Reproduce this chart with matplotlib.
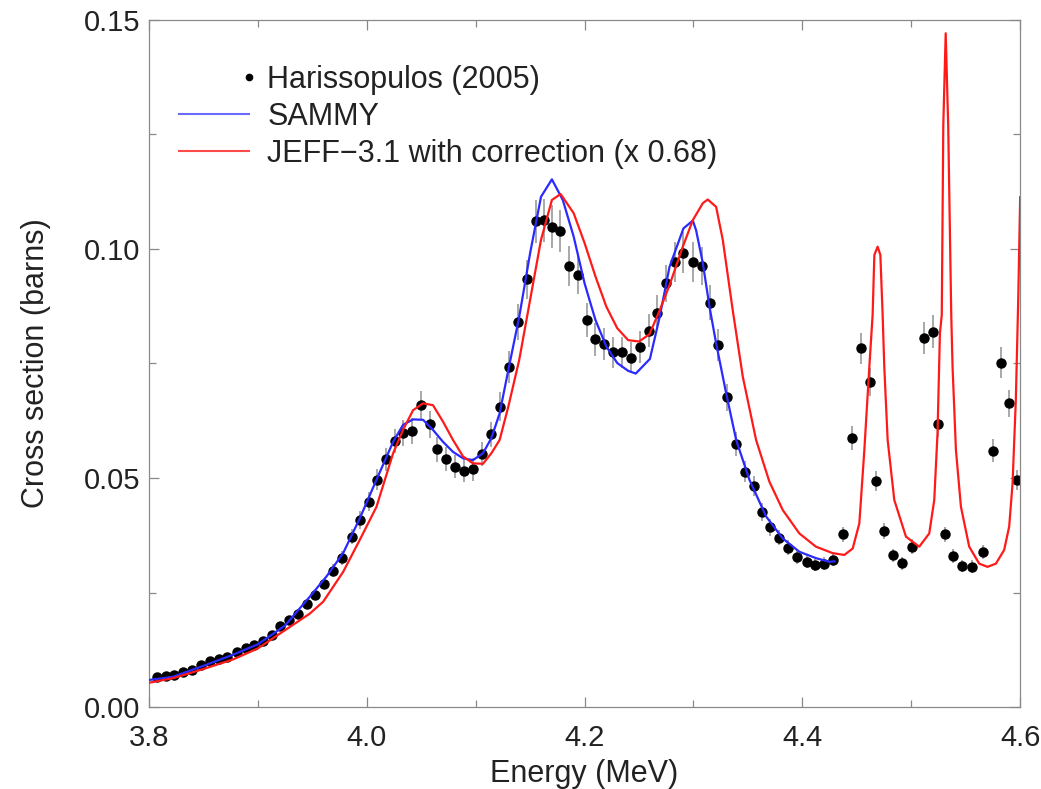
import numpy as np
import matplotlib
matplotlib.use("Agg")
import matplotlib.pyplot as plt
from matplotlib.lines import Line2D
from matplotlib.legend_handler import HandlerLine2D
from matplotlib.ticker import MultipleLocator, FormatStrFormatter

plt.rcParams['font.family'] = ['Liberation Sans', 'DejaVu Sans']

# measured cross section, Harissopulos (2005)
exp_energy = [3.8076, 3.8153, 3.8229, 3.8309, 3.8391, 3.8477, 3.8560, 3.8642, 3.8718, 3.8804,
              3.8887, 3.8966, 3.9049, 3.9128, 3.9205, 3.9284, 3.9364, 3.9447, 3.9523, 3.9608,
              3.9690, 3.9774, 3.9860, 3.9942, 4.0018, 4.0098, 4.0181, 4.0257, 4.0333, 4.0416,
              4.0495, 4.0578, 4.0644, 4.0725, 4.0807, 4.0890, 4.0972, 4.1058, 4.1141, 4.1220,
              4.1306, 4.1388, 4.1471, 4.1550, 4.1627, 4.1700, 4.1777, 4.1856, 4.1939, 4.2021,
              4.2100, 4.2181, 4.2263, 4.2346, 4.2428, 4.2511, 4.2590, 4.2666, 4.2746, 4.2826,
              4.2908, 4.2994, 4.3076, 4.3153, 4.3229, 4.3309, 4.3391, 4.3474, 4.3553, 4.3626,
              4.3706, 4.3789, 4.3872, 4.3951, 4.4039, 4.4119, 4.4202, 4.4284, 4.4370, 4.4452,
              4.4538, 4.4617, 4.4676, 4.4746, 4.4829, 4.4914, 4.5006, 4.5119, 4.5195, 4.5248,
              4.5312, 4.5385, 4.5470, 4.5556, 4.5654, 4.5749, 4.5828, 4.5901, 4.5972]
exp_xs = [0.0066, 0.0068, 0.0071, 0.0076, 0.0081, 0.0092, 0.0100, 0.0105, 0.0110, 0.0121,
          0.0128, 0.0135, 0.0145, 0.0157, 0.0177, 0.0191, 0.0204, 0.0224, 0.0245, 0.0268,
          0.0298, 0.0325, 0.0372, 0.0408, 0.0448, 0.0496, 0.0541, 0.0581, 0.0598, 0.0603,
          0.0659, 0.0617, 0.0563, 0.0541, 0.0525, 0.0516, 0.0519, 0.0552, 0.0595, 0.0656,
          0.0742, 0.0840, 0.0934, 0.1060, 0.1063, 0.1049, 0.1040, 0.0963, 0.0943, 0.0845,
          0.0803, 0.0792, 0.0774, 0.0774, 0.0763, 0.0787, 0.0822, 0.0861, 0.0925, 0.0972,
          0.0992, 0.0972, 0.0963, 0.0883, 0.0790, 0.0676, 0.0574, 0.0514, 0.0483, 0.0426,
          0.0392, 0.0370, 0.0348, 0.0327, 0.0317, 0.0310, 0.0313, 0.0322, 0.0377, 0.0587,
          0.0783, 0.0710, 0.0493, 0.0384, 0.0331, 0.0314, 0.0350, 0.0806, 0.0819, 0.0617,
          0.0377, 0.0330, 0.0308, 0.0306, 0.0339, 0.0560, 0.0752, 0.0663, 0.0495]
exp_err = [0.0005, 0.0005, 0.0005, 0.0005, 0.0005, 0.0006, 0.0006, 0.0006, 0.0006, 0.0006,
           0.0006, 0.0006, 0.0008, 0.0008, 0.0008, 0.0008, 0.0010, 0.0010, 0.0010, 0.0010,
           0.0014, 0.0015, 0.0017, 0.0019, 0.0021, 0.0023, 0.0025, 0.0027, 0.0028, 0.0028,
           0.0032, 0.0030, 0.0027, 0.0026, 0.0025, 0.0025, 0.0025, 0.0026, 0.0028, 0.0031,
           0.0035, 0.0039, 0.0043, 0.0047, 0.0047, 0.0046, 0.0046, 0.0043, 0.0042, 0.0038,
           0.0036, 0.0035, 0.0034, 0.0034, 0.0034, 0.0035, 0.0036, 0.0038, 0.0041, 0.0043,
           0.0044, 0.0043, 0.0042, 0.0039, 0.0035, 0.0030, 0.0026, 0.0023, 0.0022, 0.0019,
           0.0018, 0.0017, 0.0016, 0.0015, 0.0014, 0.0014, 0.0014, 0.0015, 0.0017, 0.0026,
           0.0034, 0.0031, 0.0022, 0.0017, 0.0015, 0.0014, 0.0016, 0.0035, 0.0036, 0.0027,
           0.0017, 0.0015, 0.0014, 0.0014, 0.0015, 0.0025, 0.0033, 0.0029, 0.0022]

# SAMMY fit
sammy_energy = [3.8000, 3.8220, 3.8500, 3.8770, 3.9000, 3.9250, 3.9477, 3.9630, 3.9783, 3.9936,
                4.0089, 4.0242, 4.0333, 4.0425, 4.0517, 4.0608, 4.0700, 4.0792, 4.0884, 4.0975,
                4.1067, 4.1144, 4.1220, 4.1300, 4.1400, 4.1500, 4.1600, 4.1700, 4.1800, 4.1900,
                4.2000, 4.2100, 4.2200, 4.2300, 4.2400, 4.2470, 4.2600, 4.2690, 4.2780, 4.2908,
                4.2994, 4.3024, 4.3086, 4.3147, 4.3208, 4.3300, 4.3392, 4.3514, 4.3667, 4.3820,
                4.3972, 4.4125, 4.4248, 4.4294]
sammy_xs = [0.0059, 0.0066, 0.0090, 0.0114, 0.0137, 0.0178, 0.0241, 0.0285, 0.0336, 0.0412,
            0.0496, 0.0579, 0.0616, 0.0628, 0.0627, 0.0605, 0.0579, 0.0557, 0.0543, 0.0539,
            0.0554, 0.0587, 0.0641, 0.0736, 0.0852, 0.0991, 0.1114, 0.1152, 0.1107, 0.1027,
            0.0925, 0.0845, 0.0787, 0.0751, 0.0734, 0.0728, 0.0760, 0.0852, 0.0961, 0.1045,
            0.1062, 0.1041, 0.0969, 0.0874, 0.0794, 0.0685, 0.0583, 0.0496, 0.0416, 0.0368,
            0.0339, 0.0325, 0.0317, 0.0318]

# JEFF-3.1 evaluation with correction, scaled by 0.68
jeff_energy = [3.8000, 3.8223, 3.8500, 3.8773, 3.9000, 3.9232, 3.9477, 3.9600, 3.9783, 3.9936,
               4.0089, 4.0242, 4.0333, 4.0425, 4.0517, 4.0608, 4.0700, 4.0792, 4.0884, 4.0975,
               4.1067, 4.1144, 4.1220, 4.1300, 4.1400, 4.1500, 4.1600, 4.1700, 4.1780, 4.1900,
               4.2000, 4.2100, 4.2200, 4.2300, 4.2400, 4.2500, 4.2596, 4.2688, 4.2780, 4.2902,
               4.2994, 4.3086, 4.3131, 4.3208, 4.3269, 4.3360, 4.3453, 4.3575, 4.3697, 4.3820,
               4.3972, 4.4125, 4.4278, 4.4385, 4.4462, 4.4523, 4.4569, 4.4615, 4.4645, 4.4661,
               4.4691, 4.4716, 4.4737, 4.4752, 4.4783, 4.4844, 4.4951, 4.5073, 4.5165, 4.5211,
               4.5241, 4.5263, 4.5280, 4.5294, 4.5316, 4.5339, 4.5367, 4.5379, 4.5410, 4.5456,
               4.5532, 4.5624, 4.5700, 4.5777, 4.5853, 4.5899, 4.5930, 4.5960, 4.5982, 4.6000]
jeff_xs = [0.0053, 0.0063, 0.0083, 0.0104, 0.0128, 0.0165, 0.0204, 0.0230, 0.0295, 0.0365,
           0.0437, 0.0554, 0.0605, 0.0648, 0.0663, 0.0659, 0.0623, 0.0583, 0.0547, 0.0532,
           0.0531, 0.0554, 0.0583, 0.0656, 0.0758, 0.0889, 0.1020, 0.1107, 0.1120, 0.1078,
           0.1013, 0.0940, 0.0874, 0.0827, 0.0801, 0.0798, 0.0814, 0.0865, 0.0921, 0.1005,
           0.1063, 0.1100, 0.1108, 0.1092, 0.1020, 0.0867, 0.0721, 0.0583, 0.0492, 0.0430,
           0.0379, 0.0350, 0.0336, 0.0332, 0.0346, 0.0401, 0.0561, 0.0743, 0.0856, 0.0987,
           0.1005, 0.0987, 0.0856, 0.0743, 0.0583, 0.0452, 0.0372, 0.0350, 0.0379, 0.0452,
           0.0598, 0.0816, 0.0856, 0.1270, 0.1471, 0.1270, 0.0856, 0.0743, 0.0561, 0.0437,
           0.0350, 0.0313, 0.0306, 0.0313, 0.0343, 0.0394, 0.0488, 0.0670, 0.0889, 0.1113]

fig = plt.figure(figsize=(10.41, 7.89), dpi=100)
ax = fig.add_axes([0.1431, 0.1039, 0.8369, 0.8708])

ax.errorbar(exp_energy, exp_xs, yerr=exp_err, fmt='o', color='black', ms=6.5,
            ecolor='#9a9a9a', elinewidth=1.2, capsize=0, zorder=2)
ax.plot(sammy_energy, sammy_xs, color='#2a2aff', lw=1.6, zorder=3)
ax.plot(jeff_energy, jeff_xs, color='#ff1a1a', lw=1.6, zorder=4)

ax.set_xlim(3.8, 4.6)
ax.set_ylim(0.0, 0.15)
ax.xaxis.set_major_locator(MultipleLocator(0.2))
ax.xaxis.set_minor_locator(MultipleLocator(0.1))
ax.yaxis.set_major_locator(MultipleLocator(0.05))
ax.yaxis.set_minor_locator(MultipleLocator(0.025))
ax.xaxis.set_major_formatter(FormatStrFormatter('%.1f'))
ax.yaxis.set_major_formatter(FormatStrFormatter('%.2f'))

ax.tick_params(which='both', direction='in', top=True, right=True,
               color='#888888', width=0.9, labelsize=21, labelcolor='#222222')
ax.tick_params(axis='x', which='both', pad=12)
ax.tick_params(axis='y', which='both', pad=6)
ax.tick_params(which='major', length=7)
ax.tick_params(which='minor', length=5)
for sp in ax.spines.values():
    sp.set_color('#8a8a8a')
    sp.set_linewidth(0.9)

ax.set_xlabel('Energy (MeV)', fontsize=22, color='#222222', labelpad=5)
ax.set_ylabel('Cross section (barns)', fontsize=22, color='#222222', labelpad=24)


class DotAtRight(HandlerLine2D):
    # put the single marker at the right end of the handle
    def get_xdata(self, legend, xdescent, ydescent, width, height, fontsize):
        x = np.array([width - xdescent])
        return x, x


dot = Line2D([], [], ls='none', marker='o', color='black', ms=4.5)
blue = Line2D([], [], color='#6a6aff', lw=1.5)
red = Line2D([], [], color='#ff4a4a', lw=1.5)
ax.legend([dot, blue, red],
          ['Harissopulos (2005)', 'SAMMY', 'JEFF\u22123.1 with correction (x 0.68)'],
          handler_map={dot: DotAtRight()},
          loc='upper left', bbox_to_anchor=(0.02, 0.952), frameon=False,
          fontsize=22, handlelength=2.3, handletextpad=0.6, labelspacing=0.22,
          borderaxespad=0.0, labelcolor='#222222')

fig.savefig('out.png', dpi=100)
